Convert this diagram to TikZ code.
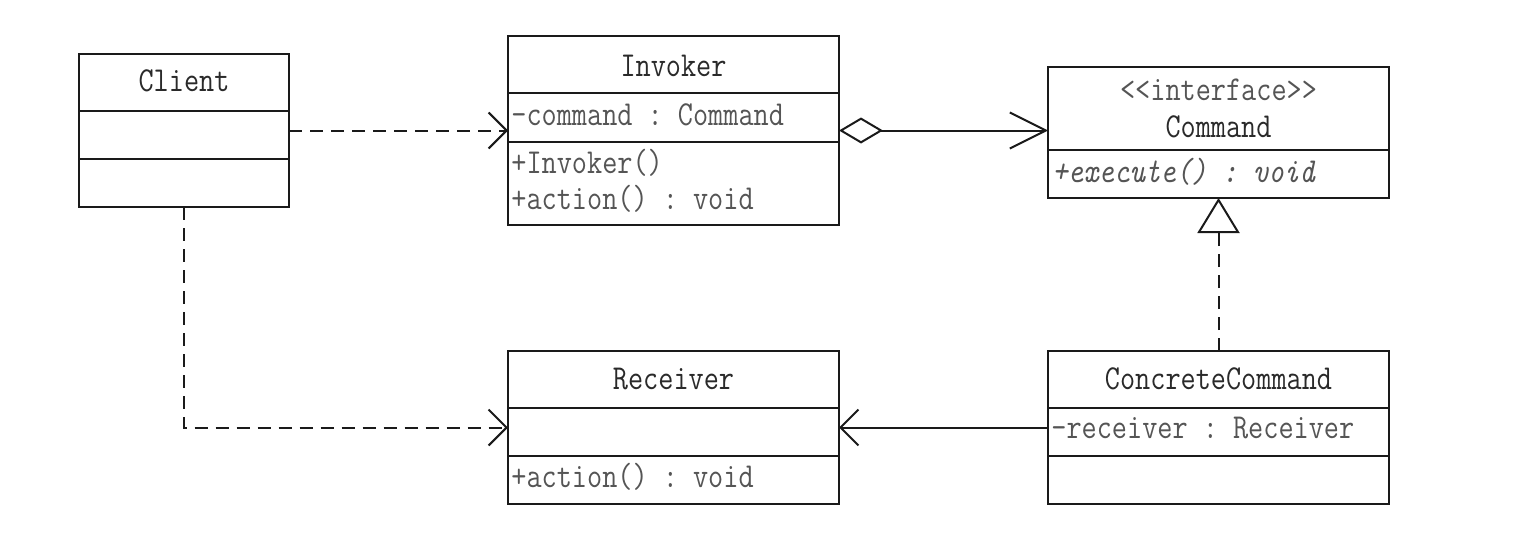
\documentclass[tikz,border=0pt]{standalone}
\usepackage{fontspec}
\usetikzlibrary{arrows.meta}
\setmonofont[FakeStretch=0.84]{Latin Modern Mono}
\definecolor{linec}{HTML}{1A1A1A}
\definecolor{titlec}{HTML}{2A2A2A}
\definecolor{memc}{HTML}{555555}
\begin{document}
\begin{tikzpicture}[x=0.5pt,y=-0.5pt,
  cls/.style={draw=linec, line width=1pt, inner sep=0pt, outer sep=0pt, fill=white},
  divider/.style={draw=linec, line width=1pt},
  umltext/.style={inner sep=0pt, font=\ttfamily\fontsize{17.5pt}{20pt}\selectfont},
  title/.style={umltext, anchor=base, text=titlec},
  stereo/.style={umltext, anchor=base, text=memc},
  member/.style={umltext, anchor=base west, text=memc},
  conn/.style={draw=linec, line width=1pt},
  dep/.style={conn, dash pattern=on 6.5pt off 4pt, -{Straight Barb[length=9pt,width=18pt]}},
  assoc/.style={conn, -{Straight Barb[length=9pt,width=18pt]}},
  aggr/.style={conn, {Diamond[open,length=22pt,width=13pt]}-{Straight Barb[length=18pt,width=18pt]}},
  realize/.style={conn, dash pattern=on 6.5pt off 4pt, -{Triangle[open,length=17.5pt,width=21pt]}}
]
\useasboundingbox (0,0) rectangle (1536,558);
\fill[white] (0,0) rectangle (1536,558);

% class boxes
\node[cls, minimum width=105pt, minimum height=76.5pt] (client) at (184,130.5) {};
\node[cls, minimum width=165.5pt, minimum height=94.5pt] (invoker) at (673.5,130.5) {};
\node[cls, minimum width=170.5pt, minimum height=65.5pt] (command) at (1218.5,132.5) {};
\node[cls, minimum width=165.5pt, minimum height=76.5pt] (receiver) at (673.5,427.5) {};
\node[cls, minimum width=170.5pt, minimum height=76.5pt] (cc) at (1218.5,427.5) {};

% dividers
\draw[divider] (client.west |- 0,111) -- (client.east |- 0,111);
\draw[divider] (client.west |- 0,159) -- (client.east |- 0,159);
\draw[divider] (invoker.west |- 0,93) -- (invoker.east |- 0,93);
\draw[divider] (invoker.west |- 0,142) -- (invoker.east |- 0,142);
\draw[divider] (command.west |- 0,150) -- (command.east |- 0,150);
\draw[divider] (receiver.west |- 0,408) -- (receiver.east |- 0,408);
\draw[divider] (receiver.west |- 0,456) -- (receiver.east |- 0,456);
\draw[divider] (cc.west |- 0,408) -- (cc.east |- 0,408);
\draw[divider] (cc.west |- 0,456) -- (cc.east |- 0,456);

% texts
\node[title] (clientT) at (184,91) {Client};
\node[title] (invokerT) at (673.5,76) {Invoker};
\node[member] (invokerA) at (511,125) {-command : Command};
\node[member] (invokerM1) at (511,173) {+Invoker()};
\node[member] (invokerM2) at (511,209) {+action() : void};
\node[stereo] (commandS) at (1218.5,100) {<<interface>>};
\node[title] (commandT) at (1218.5,137) {Command};
\node[member] (commandM) at (1052,182) {\itshape +execute() : void};
\node[title] (receiverT) at (673.5,389) {Receiver};
\node[member] (receiverM) at (511,487) {+action() : void};
\node[title] (ccT) at (1218.5,389) {ConcreteCommand};
\node[member] (ccA) at (1051,438) {-receiver : Receiver};

% connectors
\draw[dep] (client.east) -- (invoker.west);
\draw[aggr] (invoker.east) -- (command.west |- invoker.east);
\draw[realize] (cc.north) -- (command.south);
\draw[assoc] (cc.west) -- (receiver.east);
\draw[dep] (client.south) |- (receiver.west);
\end{tikzpicture}
\end{document}
